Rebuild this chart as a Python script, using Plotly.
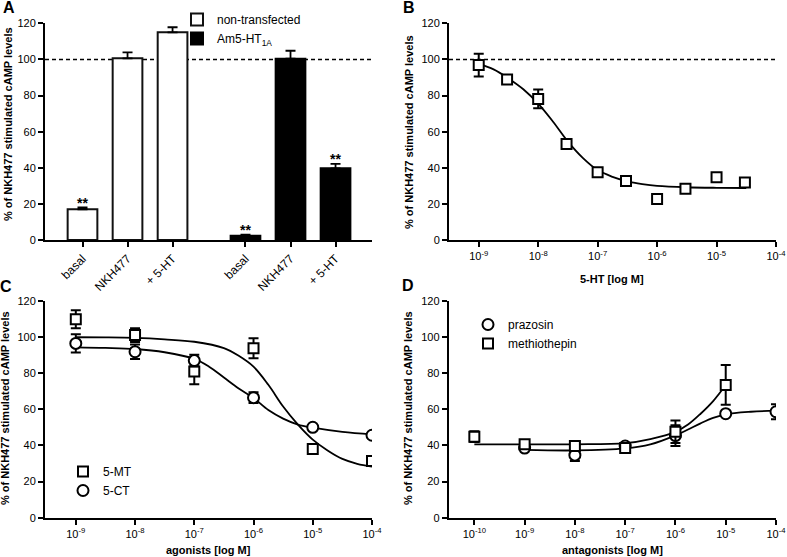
import numpy as np
import plotly.graph_objects as go

W, H = 787, 557
FONT = "Liberation Sans, Arial, sans-serif"

# ---- panel A: bars ----
bar_labels = ["basal", "NKH477", "+ 5-HT"]
nt_vals = [17.0, 100.6, 115.0]
nt_err = [1.0, 3.3, 2.8]
am_vals = [2.4, 100.4, 39.7]
am_err = [0.5, 4.4, 2.4]
nt_pos = [0, 1, 2]
am_pos = [3.62, 4.62, 5.62]
stars_pos = [0, 3.62, 5.62]
stars_y = [18.0, 2.9, 42.1]

# ---- panel B: 5-HT ----
b_conc = [1e-9, 3e-9, 1e-8, 3e-8, 1e-7, 3e-7, 1e-6, 3e-6, 1e-5, 3e-5]
b_vals = [96.9, 88.9, 78.1, 53.2, 37.5, 32.7, 22.7, 28.4, 34.7, 31.9]
b_err = [6.3, 1.2, 5.2, 0, 0, 0, 0, 0, 0, 0]
b_fit_log = [-9, -8.75, -8.5, -8.25, -8, -7.75, -7.5, -7.25, -7, -6.75, -6.5, -6.25, -6, -5.5, -5, -4.5]
b_fit = [97.5, 94.5, 89.5, 83.5, 75.5, 65.5, 54.5, 45.5, 38.7, 35.0, 32.5, 31.0, 30.0, 29.2, 28.9, 28.8]

# ---- panel C: agonists ----
c_conc = [1e-9, 1e-8, 1e-7, 1e-6, 1e-5, 1e-4]
mt_vals = [109.7, 101.0, 80.8, 93.7, 38.0, 31.4]
mt_err = [5.0, 3.8, 7.0, 5.5, 0, 0]
ct_vals = [96.4, 91.8, 86.9, 66.4, 50.0, 45.6]
ct_err = [5.0, 4.0, 3.2, 3.0, 0, 0]
mt_fit_log = [-9, -8.5, -8, -7.5, -7, -6.5, -6.25, -6, -5.75, -5.5, -5.25, -5, -4.75, -4.5, -4.25, -4]
mt_fit = [99.8, 99.7, 99.4, 98.6, 97.3, 93.8, 89.5, 83.5, 73.5, 61.5, 51.5, 43.2, 37.2, 32.5, 29.8, 28.3]
ct_fit_log = [-9, -8.5, -8, -7.5, -7, -6.75, -6.5, -6.25, -6, -5.75, -5.5, -5.25, -5, -4.5, -4]
ct_fit = [94.2, 93.9, 93.3, 91.5, 87.8, 83.5, 77.5, 71.5, 66.2, 59.5, 54.8, 51.5, 49.8, 47.5, 46.1]

# ---- panel D: antagonists ----
pz_conc = [1e-9, 1e-8, 1e-7, 1e-6, 1e-5, 1e-4]
pz_vals = [38.5, 34.6, 39.6, 45.4, 57.5, 58.6]
pz_err = [0, 3.3, 0, 5.7, 0, 4.2]
me_conc = [1e-10, 1e-9, 1e-8, 1e-7, 1e-6, 1e-5]
me_vals = [44.8, 40.6, 39.6, 38.5, 47.5, 73.4]
me_err = [3.0, 0, 0, 0, 6.2, 11.0]
pz_fit_log = [-9, -8, -7, -6.5, -6, -5.75, -5.5, -5.25, -5, -4.5, -4]
pz_fit = [37.5, 37.2, 38.3, 40.5, 45.5, 48.8, 52.2, 55.2, 57.2, 58.6, 59.2]
me_fit_log = [-10, -9, -8, -7, -6.5, -6, -5.75, -5.5, -5.25, -5]
me_fit = [40.6, 40.6, 40.6, 41.2, 43.5, 47.5, 51.5, 57.5, 64.5, 73.4]

REF = 100
y_ticks = [0, 20, 40, 60, 80, 100, 120]
ytitle = "% of NKH477 stimulated cAMP levels"


def fx(p):
    return p / W


def fy(p):
    return 1 - p / H


def dec_ticks(lo, hi):
    vals = [10.0 ** e for e in range(lo, hi + 1)]
    text = ["10<sup>%d</sup>" % e for e in range(lo, hi + 1)]
    return vals, text


axis_style = dict(showline=True, linecolor="black", linewidth=2, ticks="outside",
                  ticklen=5, tickwidth=2, tickcolor="black", showgrid=False,
                  zeroline=False, tickfont=dict(size=11, color="black"), fixedrange=True,
                  automargin=False)

fig = go.Figure()

# A
fig.add_trace(go.Bar(x=nt_pos, y=nt_vals, width=0.66, name="non-transfected",
                     marker=dict(color="white", line=dict(color="#111", width=2)),
                     error_y=dict(type="data", symmetric=False, array=nt_err, arrayminus=[0] * 3,
                                  color="black", thickness=1.8, width=5),
                     xaxis="x", yaxis="y", legend="legend"))
fig.add_trace(go.Bar(x=am_pos, y=am_vals, width=0.66, name="Am5-HT<sub>1A</sub>",
                     marker=dict(color="black", line=dict(color="black", width=2)),
                     error_y=dict(type="data", symmetric=False, array=am_err, arrayminus=[0] * 3,
                                  color="black", thickness=1.8, width=5),
                     xaxis="x", yaxis="y", legend="legend"))

line_k = dict(color="black", width=1.8, shape="spline")
sq = dict(symbol="square", size=10, color="white", line=dict(color="black", width=2))
ci = dict(symbol="circle", size=11, color="white", line=dict(color="black", width=2))


def err(a):
    return dict(type="data", array=a, color="black", thickness=2, width=5)


# B
fig.add_trace(go.Scatter(x=np.power(10.0, b_fit_log), y=b_fit, mode="lines", line=line_k,
                         showlegend=False, xaxis="x2", yaxis="y2"))
fig.add_trace(go.Scatter(x=b_conc, y=b_vals, mode="markers", marker=sq, error_y=err(b_err),
                         showlegend=False, xaxis="x2", yaxis="y2"))

# C
fig.add_trace(go.Scatter(x=np.power(10.0, mt_fit_log), y=mt_fit, mode="lines", line=line_k,
                         showlegend=False, xaxis="x3", yaxis="y3"))
fig.add_trace(go.Scatter(x=np.power(10.0, ct_fit_log), y=ct_fit, mode="lines", line=line_k,
                         showlegend=False, xaxis="x3", yaxis="y3"))
fig.add_trace(go.Scatter(x=c_conc, y=mt_vals, mode="markers", marker=sq, error_y=err(mt_err),
                         name="5-MT", xaxis="x3", yaxis="y3", legend="legend2"))
fig.add_trace(go.Scatter(x=c_conc, y=ct_vals, mode="markers", marker=ci, error_y=err(ct_err),
                         name="5-CT", xaxis="x3", yaxis="y3", legend="legend2"))

# D
fig.add_trace(go.Scatter(x=np.power(10.0, me_fit_log), y=me_fit, mode="lines", line=line_k,
                         showlegend=False, xaxis="x4", yaxis="y4"))
fig.add_trace(go.Scatter(x=np.power(10.0, pz_fit_log), y=pz_fit, mode="lines", line=line_k,
                         showlegend=False, xaxis="x4", yaxis="y4"))
fig.add_trace(go.Scatter(x=pz_conc, y=pz_vals, mode="markers", marker=ci, error_y=err(pz_err),
                         name="prazosin", xaxis="x4", yaxis="y4", legend="legend3"))
fig.add_trace(go.Scatter(x=me_conc, y=me_vals, mode="markers", marker=sq, error_y=err(me_err),
                         name="methiothepin", xaxis="x4", yaxis="y4", legend="legend3"))

top_y = [fy(240), fy(23.3)]
bot_y = [fy(517.7), fy(300.7)]
left_x = [fx(45), fx(372)]
right_x = [fx(449), fx(776)]

bv, bt = dec_ticks(-9, -4)
dv, dt = dec_ticks(-10, -4)

layout = dict(
    width=W, height=H, margin=dict(l=0, r=0, t=0, b=0),
    paper_bgcolor="white", plot_bgcolor="white",
    font=dict(family=FONT, color="black", size=12),
    barmode="overlay", showlegend=True,
    xaxis=dict(axis_style, domain=left_x, range=[-0.833, 6.43], anchor="y",
               tickvals=nt_pos + am_pos, ticktext=bar_labels * 2, tickangle=-45,
               tickfont=dict(size=12, color="black")),
    yaxis=dict(axis_style, domain=top_y, range=[0, 120], tickvals=y_ticks, anchor="x"),
    xaxis2=dict(axis_style, type="log", domain=right_x, range=[-9.5, -4], anchor="y2",
                tickvals=bv, ticktext=bt),
    yaxis2=dict(axis_style, domain=top_y, range=[0, 120], tickvals=y_ticks, anchor="x2"),
    xaxis3=dict(axis_style, type="log", domain=left_x, range=[-9.52, -4], anchor="y3",
                tickvals=bv, ticktext=bt),
    yaxis3=dict(axis_style, domain=bot_y, range=[0, 120], tickvals=y_ticks, anchor="x3"),
    xaxis4=dict(axis_style, type="log", domain=[fx(448.7), fx(776)], range=[-10.51, -4],
                anchor="y4", tickvals=dv, ticktext=dt),
    yaxis4=dict(axis_style, domain=bot_y, range=[0, 120], tickvals=y_ticks, anchor="x4"),
    legend=dict(x=fx(177), y=fy(5), xanchor="left", yanchor="top", bgcolor="rgba(0,0,0,0)",
                font=dict(size=12), itemwidth=30, traceorder="normal"),
    legend2=dict(x=fx(63), y=fy(457), xanchor="left", yanchor="top", bgcolor="rgba(0,0,0,0)",
                 font=dict(size=12), itemwidth=30, traceorder="normal"),
    legend3=dict(x=fx(468), y=fy(310), xanchor="left", yanchor="top", bgcolor="rgba(0,0,0,0)",
                 font=dict(size=12), itemwidth=30, traceorder="normal"),
)
fig.update_layout(layout)

dash_line = dict(dash="4px,3px", width=1.5, color="black")
fig.add_shape(type="line", xref="x domain", yref="y", x0=0, x1=1, y0=REF, y1=REF,
              line=dash_line, layer="below")
fig.add_shape(type="line", xref="x2 domain", yref="y2", x0=0, x1=1, y0=REF, y1=REF,
              line=dash_line, layer="below")

for xp, yp in zip(stars_pos, stars_y):
    fig.add_annotation(x=xp, y=yp, xref="x", yref="y", text="<b>**</b>", showarrow=False,
                       yanchor="bottom", yshift=-5, font=dict(size=14))

bold = dict(size=11, family=FONT, color="black")
titles = [
    (8, 124, ytitle, -90), (409, 132, ytitle, -90),
    (5, 408, ytitle, -90), (408, 408, ytitle, -90),
    (612, 279, "5-HT [log M]", 0), (208, 550, "agonists [log M]", 0),
    (612, 550, "antagonists [log M]", 0),
]
for tx, ty, txt, ang in titles:
    fig.add_annotation(x=fx(tx), y=fy(ty), xref="paper", yref="paper", text="<b>%s</b>" % txt,
                       showarrow=False, textangle=ang, font=bold, xanchor="center", yanchor="middle")

for tx, ty, txt in [(9, 7, "A"), (409, 7, "B"), (6, 286, "C"), (408, 285, "D")]:
    fig.add_annotation(x=fx(tx), y=fy(ty), xref="paper", yref="paper", text="<b>%s</b>" % txt,
                       showarrow=False, font=dict(size=16, family=FONT, color="black"),
                       xanchor="center", yanchor="middle")

# the page's default body margin would push the figure off the window
fig.write_html("out.html", config={"displayModeBar": False},
               post_script="document.body.style.margin='0';")
